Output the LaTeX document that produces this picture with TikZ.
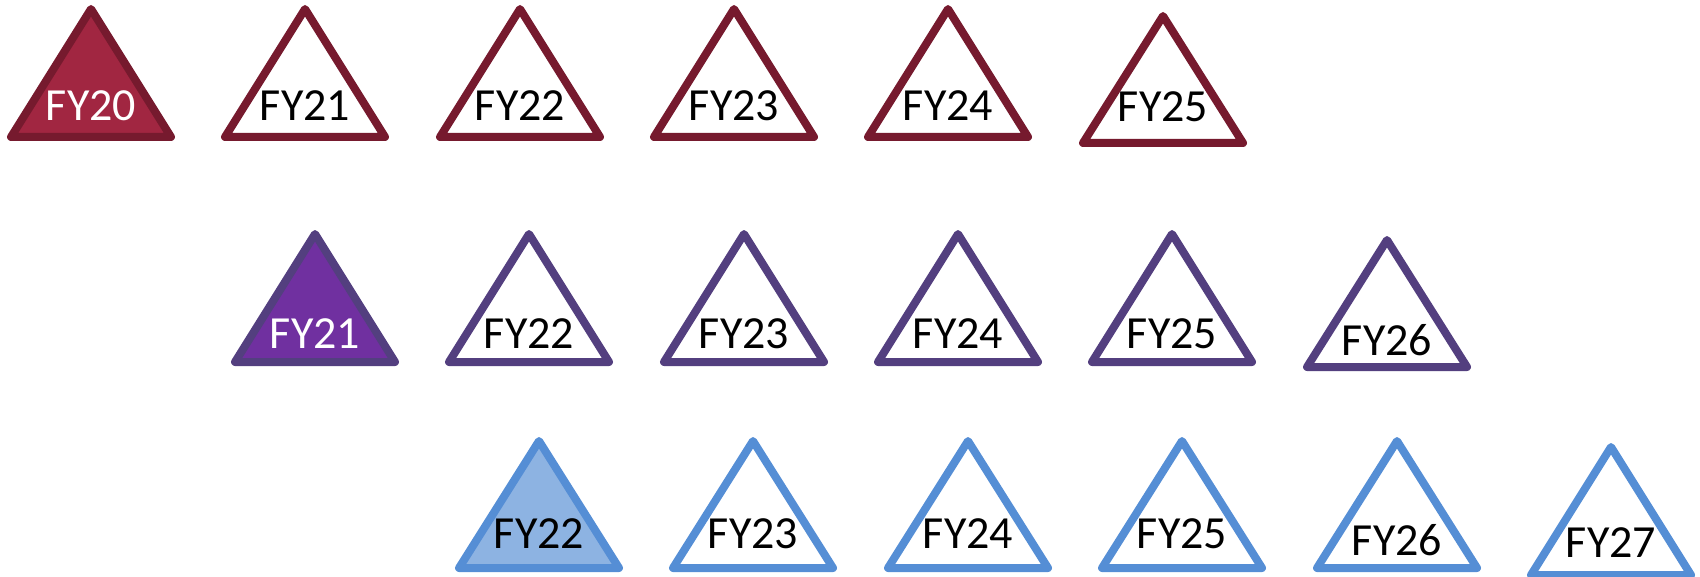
\documentclass[tikz,border=0pt]{standalone}
\usepackage{fontspec}
\setmainfont{Carlito}
\definecolor{redline}{HTML}{761A2E}
\definecolor{redfill}{HTML}{A12641}
\definecolor{purline}{HTML}{533F7F}
\definecolor{purfill}{HTML}{7030A0}
\definecolor{bluline}{HTML}{558ED5}
\definecolor{blufill}{HTML}{8DB3E2}
\newcommand\mytri[4]{\draw[tri,#4] ({#1-80},#3) -- (#1,#2) -- ({#1+80},#3) -- cycle;}
\begin{document}
\begin{tikzpicture}[x=0.5pt,y=-0.5pt,
  tri/.style={line width=4pt,line join=round},
  lbl/.style={anchor=base,inner sep=0pt,font=\fontsize{23}{23}\selectfont}]
\useasboundingbox (0,0) rectangle (1700,577);
\clip (0,0) rectangle (1700,577);
% row 1
\mytri{91}{9}{137}{draw=redline,fill=redfill}
\mytri{305}{9}{137}{draw=redline,fill=white}
\mytri{520}{9}{137}{draw=redline,fill=white}
\mytri{734}{9}{137}{draw=redline,fill=white}
\mytri{948}{9}{137}{draw=redline,fill=white}
\mytri{1163}{16}{143}{draw=redline,fill=white}
\node[lbl,text=white] (a20) at (91,121) {FY20};
\node[lbl] (a21) at (305,121) {FY21};
\node[lbl] (a22) at (520,121) {FY22};
\node[lbl] (a23) at (734,121) {FY23};
\node[lbl] (a24) at (948,121) {FY24};
\node[lbl] (a25) at (1163,122) {FY25};
% row 2
\mytri{315}{234}{362}{draw=purline,fill=purfill}
\mytri{529}{234}{362}{draw=purline,fill=white}
\mytri{744}{234}{362}{draw=purline,fill=white}
\mytri{958}{234}{362}{draw=purline,fill=white}
\mytri{1172}{234}{362}{draw=purline,fill=white}
\mytri{1387}{240}{367}{draw=purline,fill=white}
\node[lbl,text=white] (b21) at (315,348) {FY21};
\node[lbl] (b22) at (529,348) {FY22};
\node[lbl] (b23) at (744,348) {FY23};
\node[lbl] (b24) at (958,348) {FY24};
\node[lbl] (b25) at (1172,348) {FY25};
\node[lbl] (b26) at (1387,355) {FY26};
% row 3
\mytri{539}{441}{568}{draw=bluline,fill=blufill}
\mytri{753}{441}{568}{draw=bluline,fill=white}
\mytri{968}{441}{568}{draw=bluline,fill=white}
\mytri{1182}{441}{568}{draw=bluline,fill=white}
\mytri{1397}{441}{568}{draw=bluline,fill=white}
\mytri{1611}{447}{575}{draw=bluline,fill=white}
\node[lbl] (c22) at (539,548) {FY22};
\node[lbl] (c23) at (753,548) {FY23};
\node[lbl] (c24) at (968,548) {FY24};
\node[lbl] (c25) at (1182,548) {FY25};
\node[lbl] (c26) at (1397,555) {FY26};
\node[lbl] (c27) at (1611,557) {FY27};
\end{tikzpicture}
\end{document}
